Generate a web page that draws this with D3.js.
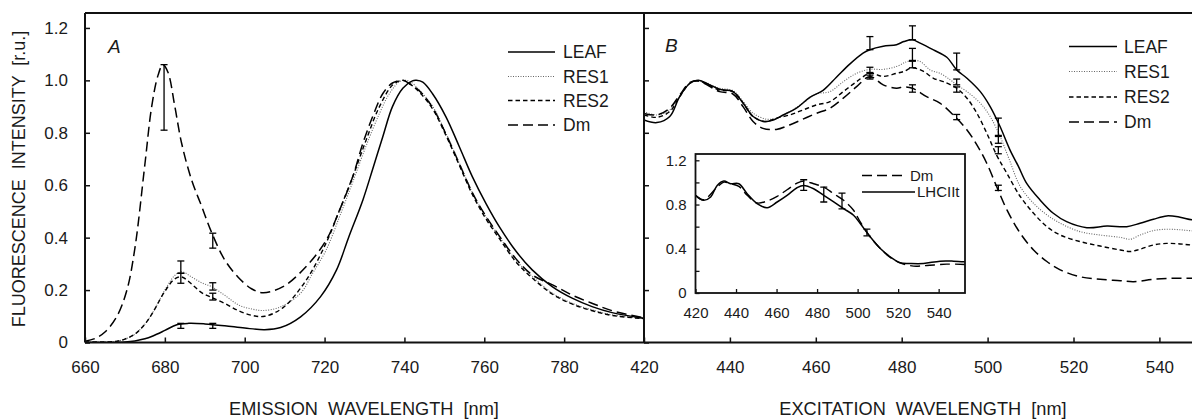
<!DOCTYPE html>
<html><head><meta charset="utf-8">
<script src="https://cdn.jsdelivr.net/npm/d3@7"></script>
<style>
html,body{margin:0;padding:0;background:#fff;}
svg{display:block;font-family:"Liberation Sans",Arial,sans-serif;}
</style></head>
<body>
<svg id="c" width="1192" height="419"></svg>
<script>
// ---------- DATA ----------
// Panel A: emission spectra [wavelength nm, intensity r.u.]
const emLEAF = [[660,0],[665,0],[670,0.002],[672.5,0.006],[675,0.014],[677,0.025],[680,0.046],[683,0.068],[686,0.073],[690,0.071],[695,0.064],[700,0.055],[705,0.049],[709,0.057],[714,0.098],[719,0.175],[723,0.277],[726,0.4],[729.6,0.544],[732,0.659],[734.6,0.786],[737,0.9],[739.6,0.97],[742,0.998],[743,1.0],[744.6,0.993],[747,0.95],[750.4,0.861],[753.75,0.747],[757,0.633],[760.4,0.531],[763.75,0.442],[768,0.347],[772,0.277],[777,0.213],[782,0.169],[787,0.137],[792,0.114],[800,0.092]];
const emRES1 = [[660,0.002],[665,0.002],[668,0.005],[670,0.013],[672.5,0.032],[675,0.07],[677,0.115],[680,0.2],[682.5,0.256],[684.2,0.27],[686.7,0.25],[689.2,0.228],[691.7,0.213],[695,0.18],[698.5,0.143],[701.7,0.128],[704.5,0.122],[709,0.136],[714,0.188],[717,0.264],[720.4,0.353],[723.75,0.48],[727,0.61],[730.4,0.75],[733.75,0.874],[736.25,0.95],[738.75,0.995],[740.4,1.0],[741.5,0.995],[743.75,0.963],[747.1,0.9],[750.4,0.798],[753.75,0.684],[757.1,0.569],[760.4,0.48],[763.75,0.404],[767.9,0.315],[772.1,0.251],[777.1,0.188],[782.1,0.149],[787.1,0.124],[792.1,0.105],[800,0.092]];
const emRES2 = [[660,0.002],[665,0.002],[668,0.005],[670,0.013],[672.5,0.032],[675,0.07],[677,0.115],[680,0.195],[682.5,0.243],[684.2,0.25],[686.7,0.223],[689.2,0.19],[691.7,0.172],[695,0.149],[698.3,0.122],[701.7,0.104],[705,0.1],[709.6,0.133],[715.4,0.238],[720.4,0.38],[723.75,0.505],[727,0.63],[730.4,0.772],[733.75,0.9],[737.1,0.983],[739.6,1.0],[741,0.99],[743.75,0.955],[747.1,0.89],[750.4,0.79],[753.75,0.676],[757.1,0.562],[760.4,0.472],[763.75,0.397],[767.9,0.308],[772.1,0.245],[777.1,0.184],[782.1,0.146],[787.1,0.121],[792.1,0.103],[800,0.091]];
const emDm = [[660,0.005],[662.5,0.015],[665,0.04],[668,0.1],[670.5,0.2],[672.5,0.36],[675,0.68],[676.7,0.9],[678.3,1.02],[679.5,1.06],[680.8,1.03],[682.5,0.9],[684.2,0.76],[686.7,0.62],[689.2,0.52],[691.7,0.42],[695,0.315],[698.3,0.25],[701.7,0.205],[704.6,0.19],[709.6,0.213],[715.4,0.29],[720.4,0.39],[723.75,0.505],[727,0.63],[729.6,0.76],[732,0.86],[734.6,0.95],[737,0.99],[739.6,1.0],[741,0.99],[743.75,0.96],[747.1,0.895],[750.4,0.795],[753.75,0.682],[757.1,0.569],[760.4,0.482],[763.75,0.407],[767.9,0.32],[772.1,0.257],[777.1,0.22],[782.1,0.18],[787.1,0.149],[792.1,0.121],[800,0.094]];
// error bars [wavelength, low, high]
const emErrLEAF = [[684,0.054,0.073],[692,0.054,0.073]];
const emErrRES1 = [[684,0.264,0.311],[692,0.2,0.228]];
const emErrRES2 = [[684,0.226,0.264],[692,0.162,0.188]];
const emErrDm = [[679.8,0.81,1.06],[692,0.36,0.417]];

// Panel B: excitation spectra
const exLEAF = [[420,0.849],[423,0.839],[426,0.862],[428.3,0.938],[430.7,0.989],[432.6,1.0],[435.3,0.983],[437.6,0.966],[440.7,0.957],[443.1,0.913],[445.4,0.862],[447.7,0.843],[450.1,0.849],[452.4,0.868],[455.5,0.894],[458.6,0.935],[461.7,0.962],[464.8,1.012],[467.9,1.062],[471,1.104],[472.6,1.117],[475.7,1.13],[478.8,1.136],[480.5,1.148],[482.5,1.155],[484.3,1.142],[487.4,1.116],[490.5,1.088],[492.8,1.04],[495.2,1.008],[498.3,0.957],[500.6,0.9],[502.9,0.824],[505.2,0.735],[507.2,0.671],[509.1,0.607],[512.2,0.544],[515.3,0.493],[518.4,0.461],[523.1,0.438],[527.8,0.444],[532.4,0.442],[535.5,0.455],[538.6,0.47],[541.7,0.483],[544.8,0.478],[547.6,0.468],[552,0.465]];
const exRES1 = [[420,0.881],[423,0.868],[426,0.887],[428.3,0.938],[430.7,0.989],[432.6,1.0],[437.6,0.97],[440.7,0.961],[443.1,0.919],[445.4,0.875],[448.5,0.852],[450.8,0.856],[453.9,0.881],[457,0.913],[460.1,0.948],[463.3,0.957],[466.4,0.995],[469.5,1.027],[472.6,1.042],[475.7,1.042],[478.8,1.053],[481,1.07],[482.5,1.076],[484.3,1.072],[486.6,1.04],[488.9,1.027],[491.3,1.002],[492.8,0.983],[495.2,0.957],[498.3,0.913],[500.6,0.862],[502.9,0.786],[505,0.7],[507.6,0.595],[510.7,0.531],[513.8,0.487],[516.9,0.455],[521.5,0.423],[526.2,0.41],[530.9,0.401],[533.2,0.394],[535.5,0.41],[538.6,0.427],[541.7,0.432],[544.8,0.43],[547.6,0.426],[552,0.425]];
const exRES2 = [[420,0.868],[423,0.859],[426,0.881],[428.3,0.938],[430.7,0.989],[432.6,0.998],[437.6,0.963],[440.7,0.957],[443.1,0.913],[445.4,0.862],[448.5,0.843],[450.8,0.856],[453.9,0.868],[457,0.887],[460.1,0.906],[463.3,0.919],[466.4,0.957],[469.5,0.995],[472.6,1.027],[475.7,1.015],[478.8,1.027],[480.5,1.034],[482.5,1.048],[485.1,1.034],[487.4,1.008],[489.7,0.995],[492.8,0.97],[495.2,0.932],[497.5,0.875],[499.8,0.799],[502.1,0.715],[504.5,0.645],[507.6,0.557],[510.7,0.493],[513.8,0.442],[516.9,0.41],[521.5,0.385],[526.2,0.368],[530.9,0.353],[533.2,0.347],[535.5,0.356],[538.6,0.372],[541.7,0.378],[544.8,0.376],[547.6,0.372],[552,0.37]];
const exDm = [[420,0.874],[423,0.868],[426,0.894],[428.3,0.944],[430.7,0.992],[432.6,0.998],[437.6,0.957],[440.7,0.948],[443.1,0.899],[445.4,0.843],[447.7,0.817],[450.8,0.813],[453.9,0.83],[457,0.852],[460.1,0.874],[463.3,0.894],[466.4,0.932],[469.5,0.976],[472.6,1.015],[475.7,0.983],[478.8,0.97],[480.5,0.975],[482.5,0.97],[485.8,0.938],[488.9,0.913],[492,0.868],[495.2,0.811],[497.5,0.754],[499.8,0.684],[502.1,0.595],[504.5,0.506],[507.6,0.417],[510.7,0.353],[513.8,0.309],[516.9,0.277],[521.5,0.251],[526.2,0.241],[530.9,0.236],[534,0.232],[538.6,0.241],[543.3,0.245],[547.6,0.245],[552,0.245]];
const exErrLEAF = [[472.6,1.117,1.167],[482.5,1.155,1.208],[492.8,1.04,1.104],[502.5,0.79,0.856]];
const exErrRES1 = [[472.6,1.027,1.05],[482.5,1.076,1.122],[492.8,0.983,1.005],[502.5,0.76,0.786]];
const exErrRES2 = [[472.6,1.01,1.03],[482.5,1.048,1.073],[492.8,0.955,0.975],[502.5,0.72,0.747]];
const exErrDm = [[472.6,1.005,1.02],[482.5,0.955,0.983],[492.8,0.85,0.87],[502.5,0.58,0.6]];

// Inset: excitation Dm vs LHCIIt
const inLHCIIt = [[420,0.883],[424,0.838],[427.5,0.868],[430.7,0.973],[434,1.012],[437.3,0.988],[441.4,0.988],[445.5,0.898],[450.4,0.808],[455.4,0.772],[460.3,0.823],[465.2,0.883],[470.1,0.952],[473.4,0.973],[478.3,0.943],[483.3,0.883],[488.2,0.823],[493.1,0.763],[498,0.703],[501.3,0.628],[506.2,0.508],[511.2,0.402],[516.1,0.327],[521,0.273],[526,0.267],[532.5,0.267],[540.7,0.288],[547.3,0.288],[553,0.282]];
const inDm = [[420,0.883],[424,0.844],[430.7,0.958],[434,1.003],[437.3,0.988],[441.4,0.964],[445.5,0.883],[450.4,0.814],[455.4,0.832],[460.3,0.874],[465.2,0.934],[470.1,0.994],[473.4,1.012],[478.3,0.988],[483.3,0.958],[488.2,0.898],[493.1,0.838],[498,0.748],[501.3,0.643],[506.2,0.508],[511.2,0.402],[516.1,0.321],[521,0.273],[527.6,0.243],[534.2,0.249],[544,0.261],[553,0.258]];
const inErr = [[473.4,0.928,1.024],[483.3,0.823,0.958],[492.3,0.76,0.904],[504.6,0.517,0.577]];

const emTicks = [660,680,700,720,740,760,780];
const exTicks = [420,440,460,480,500,520,540];
const yTicks = [0,0.2,0.4,0.6,0.8,1.0,1.2];
const inXTicks = [420,440,460,480,500,520,540];
const inYTicks = [0,0.2,0.4,0.6,0.8,1.0,1.2];
const inYLabels = [0,0.4,0.8,1.2];
const seriesNames = ["LEAF","RES1","RES2","Dm"];
const insetNames = ["Dm","LHCIIt"];

// ---------- DRAW ----------
const svg = d3.select("#c");
const W = 1192, H = 419;
const ink = "#111";
const styles = {
  LEAF:{dash:null,w:1.5,c:"#000"},
  RES1:{dash:"1,1.5",w:1.1,c:"#666"},
  RES2:{dash:"4.5,3",w:1.4,c:"#000"},
  Dm:{dash:"10,5",w:1.5,c:"#000"},
  LHCIIt:{dash:null,w:1.5,c:"#000"},
  DmIn:{dash:"10,5",w:1.4,c:"#000"}
};

const y = d3.scaleLinear([0,1.257],[342.5,13]);
const xL = d3.scaleLinear([660,800],[85,644]);
const xR = d3.scaleLinear([420,560],[644,644+140*4.295]);
const xI = d3.scaleLinear([420,553],[695.5,965]);
const yI = d3.scaleLinear([0,1.257],[293,154]);

const fmt = d => d===0 ? "0" : d.toFixed(1);

function drawSeries(g, x, yy, data, st){
  const line = d3.line().x(d=>x(d[0])).y(d=>yy(d[1])).curve(d3.curveCatmullRom.alpha(0.5));
  g.append("path").attr("d", line(data)).attr("fill","none")
    .attr("stroke", st.c).attr("stroke-width", st.w)
    .attr("stroke-dasharray", st.dash).attr("stroke-linejoin","round");
}
function drawErr(g, x, yy, errs, cap){
  errs.forEach(e=>{
    const xx = x(e[0]);
    g.append("line").attr("x1",xx).attr("x2",xx).attr("y1",yy(e[1])).attr("y2",yy(e[2])).attr("stroke","#000").attr("stroke-width",1.3);
    [e[1],e[2]].forEach(v=>{
      g.append("line").attr("x1",xx-cap).attr("x2",xx+cap).attr("y1",yy(v)).attr("y2",yy(v)).attr("stroke","#000").attr("stroke-width",1.3);
    });
  });
}

// clip for panels
const defs = svg.append("defs");
defs.append("clipPath").attr("id","clipL").append("rect").attr("x",85).attr("y",13).attr("width",559).attr("height",330);
defs.append("clipPath").attr("id","clipR").append("rect").attr("x",644).attr("y",13).attr("width",W-644).attr("height",330);

// Panel A curves
const gA = svg.append("g").attr("clip-path","url(#clipL)");
drawSeries(gA, xL, y, emRES1, styles.RES1);
drawSeries(gA, xL, y, emRES2, styles.RES2);
drawSeries(gA, xL, y, emDm, styles.Dm);
drawSeries(gA, xL, y, emLEAF, styles.LEAF);
[emErrLEAF,emErrRES1,emErrRES2,emErrDm].forEach(e=>drawErr(gA,xL,y,e,3.5));

// Panel B curves
const gB = svg.append("g").attr("clip-path","url(#clipR)");
drawSeries(gB, xR, y, exRES1, styles.RES1);
drawSeries(gB, xR, y, exRES2, styles.RES2);
drawSeries(gB, xR, y, exDm, styles.Dm);
drawSeries(gB, xR, y, exLEAF, styles.LEAF);
[exErrLEAF,exErrRES1,exErrRES2,exErrDm].forEach(e=>drawErr(gB,xR,y,e,3.5));

// Axes
const axYL = svg.append("g").attr("transform","translate(85,0)")
  .call(d3.axisLeft(y).tickValues(yTicks).tickSize(-5).tickPadding(17).tickFormat(fmt));
const axXL = svg.append("g").attr("transform","translate(0,342.5)")
  .call(d3.axisBottom(xL).tickValues(emTicks).tickSize(-5).tickPadding(18).tickFormat(d3.format("d")));
const axYR = svg.append("g").attr("transform","translate(644,0)")
  .call(d3.axisRight(y).tickValues(yTicks).tickSize(5).tickFormat(""));
const axXR = svg.append("g").attr("transform","translate(0,342.5)")
  .call(d3.axisBottom(xR).tickValues(exTicks).tickSize(-5).tickPadding(18).tickFormat(d3.format("d")));
[axYL,axXL,axYR,axXR].forEach(a=>{
  a.select(".domain").remove();
  a.selectAll(".tick line").attr("stroke",ink).attr("stroke-width",1.5);
  a.selectAll(".tick text").attr("fill","#1a1a1a").attr("font-size",17).attr("font-family","Liberation Sans, Arial, sans-serif");
});

// frames
const fr = svg.append("g").attr("fill","none").attr("stroke",ink).attr("stroke-width",2);
fr.append("line").attr("x1",85).attr("x2",W+5).attr("y1",13).attr("y2",13);
fr.append("line").attr("x1",85).attr("x2",W+5).attr("y1",342.5).attr("y2",342.5);
fr.append("line").attr("x1",85).attr("x2",85).attr("y1",13).attr("y2",342.5);
fr.append("line").attr("x1",644).attr("x2",644).attr("y1",13).attr("y2",342.5);

// Panel letters
svg.append("text").attr("x",108).attr("y",53).attr("font-size",19).attr("font-style","italic").attr("fill","#1a1a1a").text("A");
svg.append("text").attr("x",665).attr("y",52).attr("font-size",19).attr("font-style","italic").attr("fill","#1a1a1a").text("B");

// Legends
function legend(x0, x1, tx, ys){
  seriesNames.forEach((n,i)=>{
    const st = styles[n];
    svg.append("line").attr("x1",x0).attr("x2",x1).attr("y1",ys[i]).attr("y2",ys[i])
      .attr("stroke",st.c).attr("stroke-width",st.w).attr("stroke-dasharray",st.dash);
    svg.append("text").attr("x",tx).attr("y",ys[i]).attr("dy","0.36em").attr("font-size",17.5).attr("fill","#1a1a1a").text(n);
  });
}
legend(508,555,563,[52,76.5,100.5,125]);
legend(1069,1117,1124,[46.5,71.5,97,122]);

// Titles
svg.append("text").attr("x",364).attr("y",415).attr("text-anchor","middle").attr("font-size",18.2)
  .attr("fill","#1a1a1a").style("white-space","pre").text("EMISSION  WAVELENGTH  [nm]");
svg.append("text").attr("x",923).attr("y",415).attr("text-anchor","middle").attr("font-size",18.2)
  .attr("fill","#1a1a1a").style("white-space","pre").text("EXCITATION  WAVELENGTH  [nm]");
svg.append("text").attr("transform","translate(25,179) rotate(-90)").attr("text-anchor","middle").attr("font-size",18)
  .attr("fill","#1a1a1a").style("white-space","pre").text("FLUORESCENCE  INTENSITY  [r.u.]");

// Inset
const gI = svg.append("g");
gI.append("rect").attr("x",695.5).attr("y",154).attr("width",965-695.5).attr("height",293-154).attr("fill","#fff");
defs.append("clipPath").attr("id","clipI").append("rect").attr("x",695.5).attr("y",154).attr("width",965-695.5).attr("height",139);
const gIc = gI.append("g").attr("clip-path","url(#clipI)");
drawSeries(gIc, xI, yI, inDm, styles.DmIn);
drawSeries(gIc, xI, yI, inLHCIIt, styles.LHCIIt);
drawErr(gIc, xI, yI, inErr, 3.5);
const axIY = gI.append("g").attr("transform","translate(695.5,0)")
  .call(d3.axisLeft(yI).tickValues(inYTicks).tickSize(-4).tickPadding(9).tickFormat(d=>inYLabels.includes(d)?fmt(d):""));
const axIX = gI.append("g").attr("transform","translate(0,293)")
  .call(d3.axisBottom(xI).tickValues(inXTicks).tickSize(-4).tickPadding(14).tickFormat(d3.format("d")));
[axIY,axIX].forEach(a=>{
  a.select(".domain").remove();
  a.selectAll(".tick line").attr("stroke",ink).attr("stroke-width",1.3);
  a.selectAll(".tick text").attr("fill","#1a1a1a").attr("font-size",15).attr("font-family","Liberation Sans, Arial, sans-serif");
});
gI.append("rect").attr("x",695.5).attr("y",154).attr("width",965-695.5).attr("height",293-154)
  .attr("fill","none").attr("stroke",ink).attr("stroke-width",1.8);
// inset legend
const inLeg = [{n:"Dm",st:styles.DmIn,x1:905,tx:910,y:175.5},{n:"LHCIIt",st:styles.LHCIIt,x1:915,tx:917,y:192}];
inLeg.forEach((d,i)=>{
  gI.append("line").attr("x1",862).attr("x2",d.x1).attr("y1",d.y).attr("y2",d.y)
    .attr("stroke",d.st.c).attr("stroke-width",d.st.w).attr("stroke-dasharray",d.st.dash);
  gI.append("text").attr("x",d.tx).attr("y",d.y).attr("dy","0.36em").attr("font-size",15).attr("fill","#1a1a1a").text(insetNames[i]);
});
</script>
</body></html>
